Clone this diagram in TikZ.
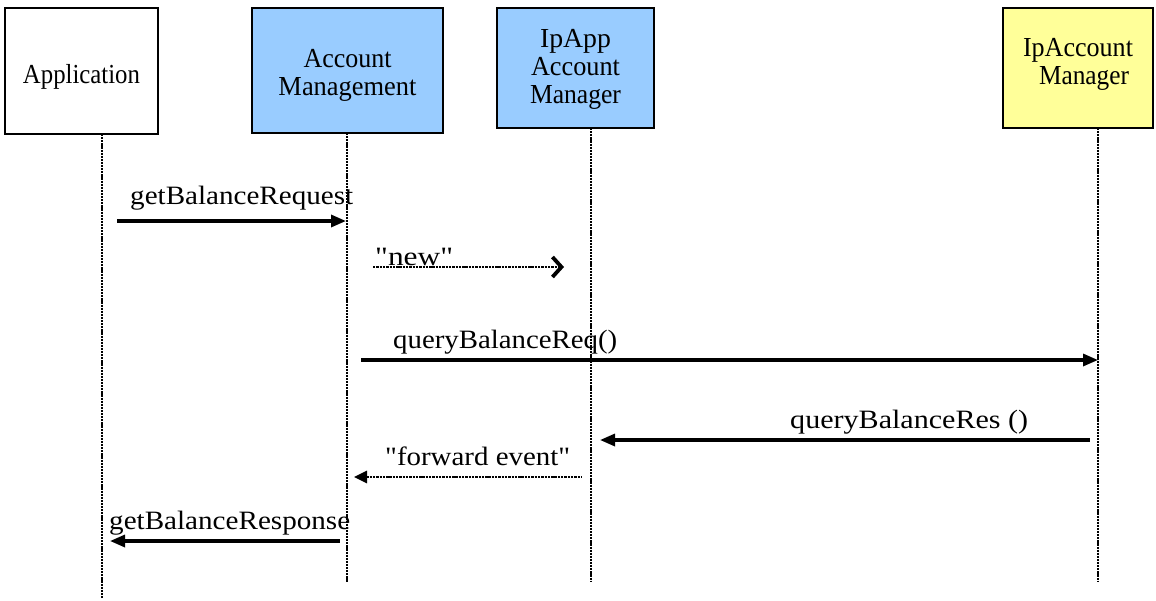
\documentclass[tikz,border=0pt]{standalone}
\usepackage{fontspec}
\setmainfont{Liberation Serif}
% same face without the TeX mapping, so " stays a straight quote
\newfontfamily\plainserif{Liberation Serif}
\usetikzlibrary{arrows.meta}
\definecolor{roleblue}{HTML}{99CCFF}
\definecolor{roleyellow}{HTML}{FFFF99}
% text squeezed or stretched to a given width, height unchanged
\newcommand\fitw[2]{\resizebox{#1pt}{\height}{#2}}
% centred lines of a role box, moved vertically without changing the box size
\newcommand\rolelines[2]{\raisebox{#1pt}[\height][\depth]{\begin{tabular}{@{}c@{}}#2\end{tabular}}}
\begin{document}
\begin{tikzpicture}[x=1pt,y=-1pt,
  role/.style={draw=black, line width=1.4pt, fill=white, inner sep=0pt,
    font=\plainserif\fontsize{27.5}{28}\selectfont},
  life/.style={line width=2.3pt, dash pattern=on 2.2pt off 0.9pt},
  call/.style={line width=3.2pt, -{Triangle[length=15pt,width=12pt]}},
  reply/.style={line width=3.2pt, {Triangle[length=15pt,width=12pt]}-},
  newline/.style={line width=2.8pt, dash pattern=on 2.4pt off 0.9pt,
    -{Straight Barb[length=9pt,width=20pt,line width=3.8pt]}},
  fwdline/.style={line width=2.8pt, dash pattern=on 2.4pt off 0.9pt,
    {Triangle[length=13pt,width=12pt]}-},
  msg/.style={anchor=base west, inner sep=0pt, font=\plainserif\fontsize{26.5}{26.5}\selectfont}]

\path[fill=white] (0,0) rectangle (1156,600);

% roles
\node[role, minimum width=153, minimum height=126] (app) at (81.5,71)
  {\rolelines{-6.4}{\fitw{117}{Application}}};
\node[role, fill=roleblue, minimum width=191, minimum height=125] (am) at (347.5,70.5)
  {\rolelines{-4.9}{\fitw{88}{Account}\\\fitw{138}{Management}}};
\node[role, fill=roleblue, minimum width=157, minimum height=120] (ipapp) at (575.5,68)
  {\rolelines{-2}{\fitw{71}{IpApp}\\\fitw{89}{Account}\\\fitw{91}{Manager}}};
\node[role, fill=roleyellow, minimum width=150, minimum height=120] (ipacc) at (1078,68)
  {\rolelines{3.5}{\fitw{110}{IpAccount}\\\hspace*{12pt}\fitw{90}{Manager}}};

% lifeline ends
\coordinate (appTop) at (102,134);   \coordinate (appEnd) at (102,598);
\coordinate (amTop) at (347,133);    \coordinate (amEnd) at (347,582);
\coordinate (ipappTop) at (591,128); \coordinate (ipappEnd) at (591,582);
\coordinate (ipaccTop) at (1098,128);\coordinate (ipaccEnd) at (1098,582);

% message ends
\coordinate (m1a) at (117,221);  \coordinate (m1b) at (346,221);
\coordinate (m2a) at (373,267);  \coordinate (m2b) at (564,267);
\coordinate (m3a) at (361,360);  \coordinate (m3b) at (1098,360);
\coordinate (m4a) at (1090,440); \coordinate (m4b) at (600,440);
\coordinate (m5a) at (581,477);  \coordinate (m5b) at (354,477);
\coordinate (m6a) at (340,541);  \coordinate (m6b) at (110,541);

% messages
\draw[call] (m1a) -- (m1b);
\node[msg] (l1) at (130,204) {\fitw{223}{getBalanceRequest}};
\draw[newline] (m2a) -- (m2b);
\node[msg] (l2) at (375,265) {\fitw{78}{"new"}};
\draw[call] (m3a) -- (m3b);
\node[msg] (l3) at (393,348) {\fitw{224}{queryBalanceReq()}};
\draw[reply] (m4b) -- (m4a);
\node[msg] (l4) at (790,428) {\fitw{238}{queryBalanceRes ()}};
\draw[fwdline] (m5b) -- (m5a);
\node[msg] (l5) at (385,465) {\fitw{185}{"forward event"}};
\draw[reply] (m6b) -- (m6a);
\node[msg] (l6) at (109,529) {\fitw{241}{getBalanceResponse}};

% lifelines
\draw[life] (appTop) -- (appEnd);
\draw[life] (amTop) -- (amEnd);
\draw[life] (ipappTop) -- (ipappEnd);
\draw[life] (ipaccTop) -- (ipaccEnd);
\end{tikzpicture}
\end{document}
